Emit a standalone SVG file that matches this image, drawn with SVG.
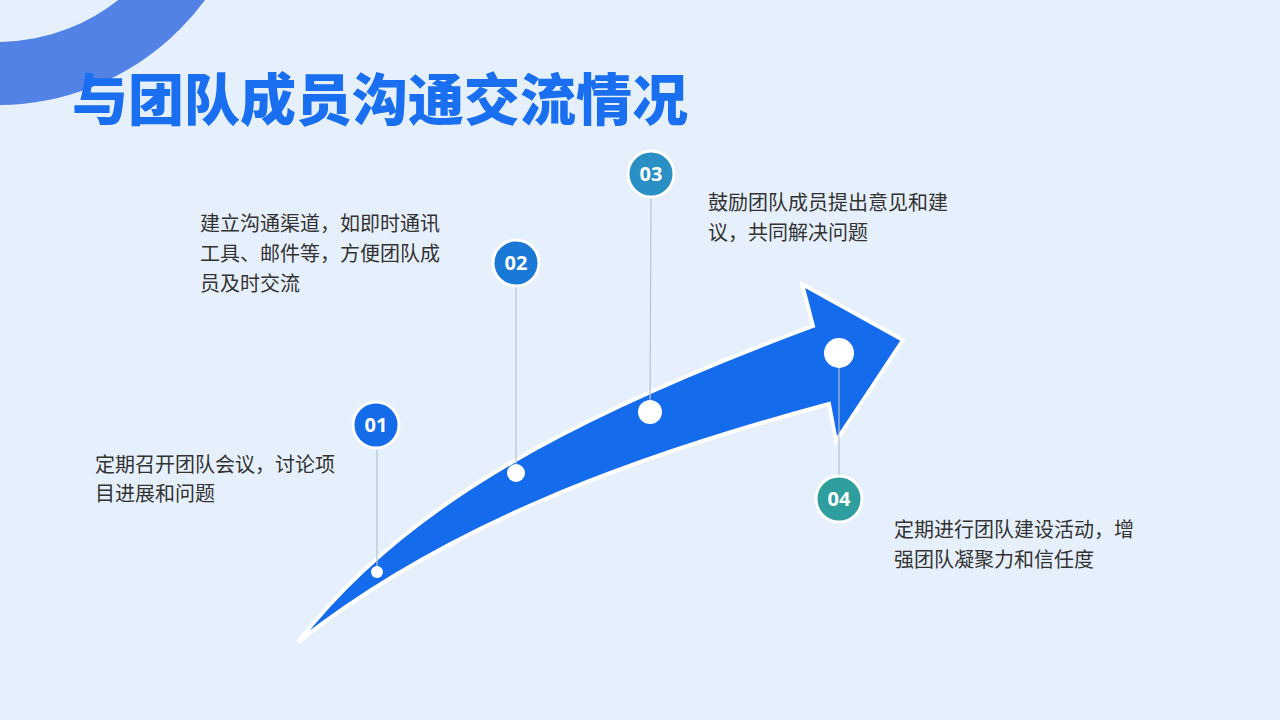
<svg xmlns="http://www.w3.org/2000/svg" width="1280" height="720" viewBox="0 0 1280 720">
<style>
.t{font-family:"Noto Sans CJK SC","Noto Sans",sans-serif;font-size:20px;fill:#333}
.n{font-family:"Open Sans","Noto Sans",sans-serif;font-size:20px;font-weight:700;fill:#fff;text-anchor:middle}
.c{stroke:#fff;stroke-width:3}
.ln{stroke:#b8c2cc;stroke-width:1.2}
</style>
<rect width="1280" height="720" fill="#e6f0fc"/>
<circle cx="-2.5" cy="-152.5" r="226" fill="none" stroke="#5282e6" stroke-width="63"/>
<text x="72" y="120" style="font-family:'Noto Sans CJK SC',sans-serif;font-size:56px;font-weight:900;fill:#1a6ff0">与团队成员沟通交流情况</text>
<g id="arrow"><path d="M298,642 C400,510 560,420 813,326 L802,284 L903,340 L836,441 L829,404 C620,460 440,530 298,642 Z" fill="#146cec" stroke="#fff" stroke-width="4" stroke-linejoin="miter"/></g>
<g id="connectors">
<line class="ln" x1="377" y1="447" x2="377" y2="572"/>
<line class="ln" x1="516" y1="285" x2="516" y2="473"/>
<line class="ln" x1="651" y1="196" x2="650" y2="412"/>
<line class="ln" x1="839" y1="353" x2="839" y2="477"/>
</g>
<g fill="#fff">
<circle cx="377" cy="572" r="6"/><circle cx="516" cy="473" r="9"/><circle cx="650" cy="412" r="12"/><circle cx="839" cy="353" r="15"/>
</g>
<g id="n1"><circle class="c" cx="376" cy="425" r="23" fill="#156ce8"/><text class="n" x="376" y="432">01</text>
<text class="t" x="95" y="472">定期召开团队会议，讨论项</text><text class="t" x="95" y="501">目进展和问题</text></g>
<g id="n2"><circle class="c" cx="516" cy="263" r="23" fill="#1a78d6"/><text class="n" x="516" y="270">02</text>
<text class="t" x="200" y="231">建立沟通渠道，如即时通讯</text><text class="t" x="200" y="261">工具、邮件等，方便团队成</text><text class="t" x="200" y="291">员及时交流</text></g>
<g id="n3"><circle class="c" cx="651" cy="174" r="23" fill="#2a8fc4"/><text class="n" x="651" y="181">03</text>
<text class="t" x="708" y="210">鼓励团队成员提出意见和建</text><text class="t" x="708" y="240">议，共同解决问题</text></g>
<g id="n4"><circle class="c" cx="839" cy="499" r="23" fill="#2e9e9e"/><text class="n" x="839" y="506">04</text>
<text class="t" x="894" y="537">定期进行团队建设活动，增</text><text class="t" x="894" y="567">强团队凝聚力和信任度</text></g>
</svg>
